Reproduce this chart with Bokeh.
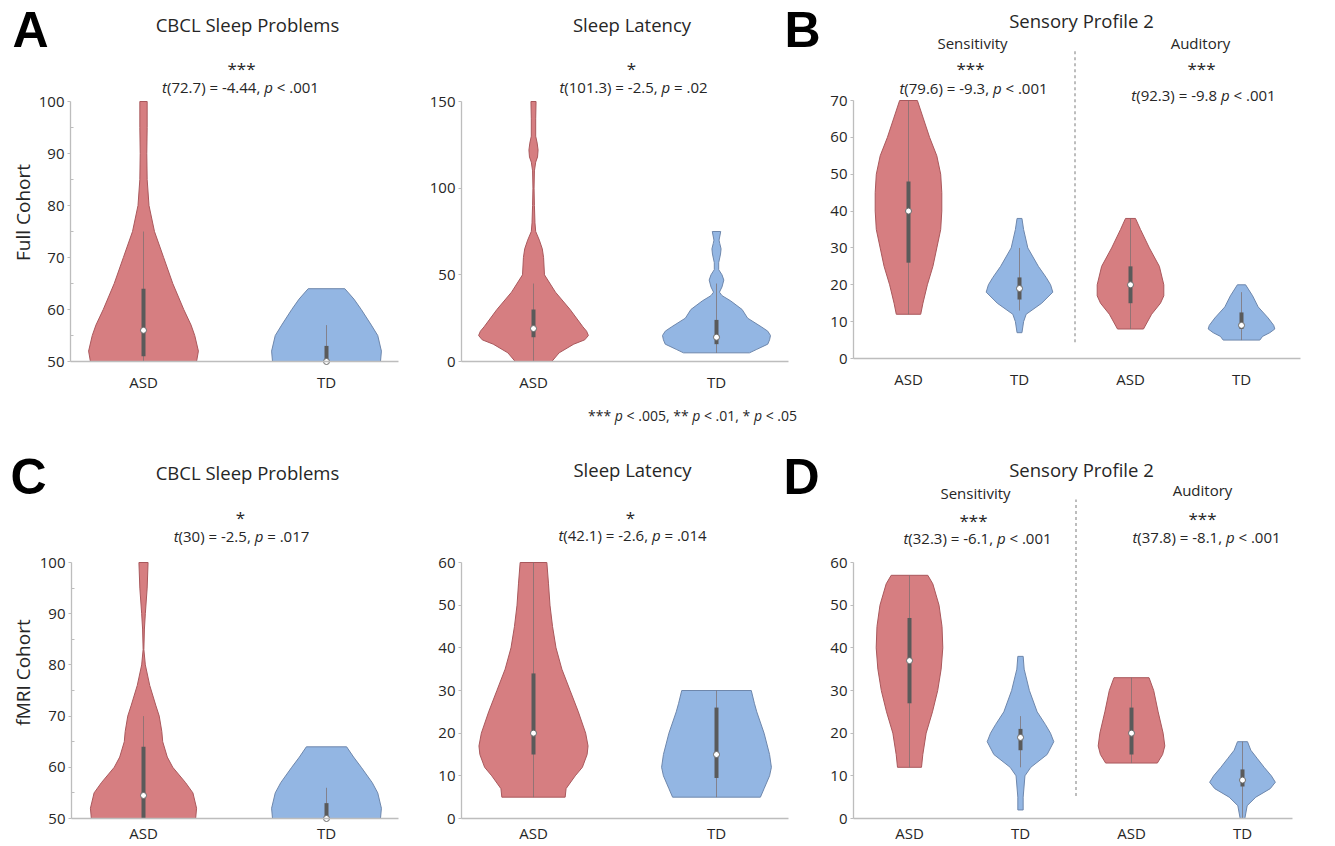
import os, re, math, glob, subprocess
from bokeh.plotting import figure
from bokeh.models import Range1d, LinearAxis, FixedTicker
from bokeh.core.properties import value
from bokeh.embed import file_html
from bokeh.resources import INLINE

# ======================= DATA =======================
groups = ["ASD", "TD"]
cohort_labels = ["Full Cohort", "fMRI Cohort"]
panel_letters = ["A", "B", "C", "D"]
measure_titles = ["CBCL Sleep Problems", "Sleep Latency", "Sensory Profile 2"]
subscale_titles = ["Sensitivity", "Auditory"]

full_stars = ["***", "*", "***", "***"]
full_stats = ["t(72.7) = -4.44, p < .001", "t(101.3) = -2.5, p = .02",
              "t(79.6) = -9.3, p < .001", "t(92.3) = -9.8 p < .001"]
fmri_stars = ["*", "*", "***", "***"]
fmri_stats = ["t(30) = -2.5, p = .017", "t(42.1) = -2.6, p = .014",
              "t(32.3) = -6.1, p < .001", "t(37.8) = -8.1, p < .001"]
footnote = "*** p < .005, ** p < .01, * p < .05"

cbcl_ticks = [50, 60, 70, 80, 90, 100]
cbcl_minor = [55, 65, 75, 85, 95]
latency_full_ticks = [0, 50, 100, 150]
sp_full_ticks = [0, 10, 20, 30, 40, 50, 60, 70]
latency_fmri_ticks = [0, 10, 20, 30, 40, 50, 60]
sp_fmri_ticks = [0, 10, 20, 30, 40, 50, 60]

# Violins: score levels, half-width of the density (in group units),
# box = (q1, q3, median, whisker low, whisker high)
# ---- Full cohort: CBCL sleep problems
cbcl_full_asd_y = [50, 52, 55, 57, 60, 65, 70, 75, 80, 85, 90, 95, 100]
cbcl_full_asd_w = [0.29, 0.30, 0.28, 0.26, 0.22, 0.16, 0.11, 0.06, 0.03, 0.02, 0.018, 0.02, 0.02]
cbcl_full_asd_box = (51, 64, 56, 50, 75)
cbcl_full_td_y = [50, 52, 55, 57, 60, 62, 64]
cbcl_full_td_w = [0.295, 0.30, 0.28, 0.245, 0.19, 0.15, 0.10]
cbcl_full_td_box = (50, 53, 50, 50, 57)
# ---- Full cohort: sleep latency
lat_full_asd_y = [0, 5, 10, 12.5, 15, 17.5, 20, 30, 40, 50, 60, 65, 70, 75, 80, 90, 100, 110, 115, 118,
                  122, 126, 130, 140, 150]
lat_full_asd_w = [0.10, 0.14, 0.22, 0.28, 0.30, 0.29, 0.27, 0.20, 0.12, 0.06, 0.055, 0.048, 0.032, 0.012,
                  0.008, 0.005, 0.003, 0.005, 0.012, 0.022, 0.025, 0.02, 0.012, 0.012, 0.014]
lat_full_asd_box = (14, 30, 19, 0, 45)
lat_full_td_y = [5, 7, 10, 12.5, 15, 17.5, 20, 25, 30, 35, 38, 40, 43, 47, 50, 53, 57, 62, 65, 68, 70, 75]
lat_full_td_w = [0.18, 0.22, 0.28, 0.29, 0.295, 0.28, 0.245, 0.17, 0.14, 0.077, 0.03, 0.016, 0.03, 0.04,
                 0.03, 0.012, 0.012, 0.022, 0.025, 0.018, 0.014, 0.023]
lat_full_td_box = (10, 24, 14, 5, 45)
# ---- Full cohort: sensory profile 2 (sensitivity, auditory)
sens_full_asd_y = [12, 15, 20, 25, 30, 35, 40, 45, 50, 55, 60, 65, 70]
sens_full_asd_w = [0.11, 0.13, 0.17, 0.22, 0.255, 0.29, 0.30, 0.30, 0.29, 0.255, 0.19, 0.135, 0.08]
sens_full_asd_box = (26, 48, 40, 12, 70)
sens_full_td_y = [7, 10, 12, 15, 18, 20, 22, 25, 30, 35, 38]
sens_full_td_w = [0.022, 0.037, 0.06, 0.20, 0.30, 0.28, 0.24, 0.17, 0.075, 0.037, 0.022]
sens_full_td_box = (16, 22, 19, 13, 30)
aud_full_asd_y = [8, 12, 15, 17, 20, 25, 30, 35, 38]
aud_full_asd_w = [0.117, 0.19, 0.27, 0.30, 0.30, 0.26, 0.17, 0.09, 0.045]
aud_full_asd_box = (15, 25, 20, 8, 38)
aud_full_td_y = [5, 6, 7, 8, 9, 11, 14, 17, 20]
aud_full_td_w = [0.165, 0.19, 0.255, 0.30, 0.29, 0.24, 0.15, 0.10, 0.037]
aud_full_td_box = (8, 12.5, 9, 5, 18)
# ---- fMRI cohort: CBCL sleep problems
cbcl_fmri_asd_y = [50, 52, 55, 57, 60, 62, 65, 67, 70, 72, 76, 80, 83, 87, 90, 95, 100]
cbcl_fmri_asd_w = [0.285, 0.29, 0.27, 0.23, 0.16, 0.13, 0.105, 0.10, 0.086, 0.068, 0.034, 0.01, 0.002,
                   0.005, 0.01, 0.02, 0.025]
cbcl_fmri_asd_box = (50, 64, 54.5, 50, 70)
cbcl_fmri_td_y = [50, 52, 55, 57, 60, 62, 64]
cbcl_fmri_td_w = [0.295, 0.30, 0.28, 0.25, 0.19, 0.148, 0.11]
cbcl_fmri_td_box = (50, 53, 50, 50, 56)
# ---- fMRI cohort: sleep latency
lat_fmri_asd_y = [5, 7, 10, 12, 15, 17, 20, 25, 30, 35, 40, 45, 50, 55, 60]
lat_fmri_asd_w = [0.173, 0.178, 0.228, 0.267, 0.293, 0.298, 0.285, 0.245, 0.20, 0.155, 0.123, 0.104,
                  0.09, 0.082, 0.073]
lat_fmri_asd_box = (15, 34, 20, 5, 60)
lat_fmri_td_y = [5, 7, 10, 12, 15, 20, 25, 27, 30]
lat_fmri_td_w = [0.24, 0.26, 0.29, 0.30, 0.29, 0.26, 0.22, 0.207, 0.19]
lat_fmri_td_box = (9.5, 26, 15, 5, 30)
# ---- fMRI cohort: sensory profile 2
sens_fmri_asd_y = [12, 15, 20, 25, 30, 35, 40, 45, 50, 55, 57]
sens_fmri_asd_w = [0.108, 0.12, 0.15, 0.207, 0.254, 0.285, 0.30, 0.293, 0.266, 0.21, 0.165]
sens_fmri_asd_box = (27, 47, 37, 12, 57)
sens_fmri_td_y = [2, 5, 10, 12, 15, 18, 20, 22, 25, 30, 35, 38]
sens_fmri_td_w = [0.024, 0.024, 0.04, 0.093, 0.24, 0.30, 0.27, 0.225, 0.15, 0.08, 0.033, 0.024]
sens_fmri_td_box = (16, 21, 19, 12, 24)
aud_fmri_asd_y = [13, 15, 17, 20, 25, 30, 33]
aud_fmri_asd_w = [0.233, 0.28, 0.30, 0.285, 0.24, 0.20, 0.158]
aud_fmri_asd_box = (15, 26, 20, 13, 33)
aud_fmri_td_y = [0, 3, 5, 7, 8.5, 10, 12, 14, 16, 18]
aud_fmri_td_w = [0.021, 0.042, 0.12, 0.25, 0.296, 0.26, 0.195, 0.135, 0.075, 0.045]
aud_fmri_td_box = (7.5, 11.5, 9, 0, 18)

# ======================= STYLE =======================
FONT = "Open Sans"
LETTER_FONT = "Liberation Sans"
TEXT = "#262626"
ASD_FILL, ASD_LINE = "#D67E81", "#A9585C"
TD_FILL, TD_LINE = "#93B6E3", "#6E87AC"
AXIS = "#BDBDBD"

W, H = 1330, 841
X0, Y0 = 0, 0

p = figure(width=W, height=H, x_range=Range1d(X0, X0 + W), y_range=Range1d(Y0 + H, Y0),
           output_backend="svg", toolbar_location=None, x_axis_type=None, y_axis_type=None,
           min_border=0, outline_line_color=None,
           background_fill_color="white", border_fill_color="white")
p.min_border_left = p.min_border_right = p.min_border_top = p.min_border_bottom = 0

# ---------------- text width measurement (for mixed italic runs) ----------------
FALLBACK = {c: 0.572 for c in "0123456789=<"}
FALLBACK.update({" ": 0.26, "(": 0.296, ")": 0.296, ".": 0.27, ",": 0.25, "-": 0.322,
                 "*": 0.55, "t": 0.35, "p": 0.613})


def _norm(s):
    return re.sub(r"[^a-z]", "", s.lower())


def _find_font(italic):
    want = "Italic" if italic else "Regular"
    try:
        r = subprocess.run(["fc-match", "-f", "%{file}", FONT + ":style=" + want],
                           capture_output=True, text=True, timeout=10)
        f = r.stdout.strip()
        if f and os.path.exists(f) and "opensans" in _norm(os.path.basename(f)):
            return f
    except Exception:
        pass
    files = []
    for d in ["/usr/share/fonts", "/usr/local/share/fonts",
              os.path.expanduser("~/.fonts"), os.path.expanduser("~/.local/share/fonts")]:
        files += glob.glob(os.path.join(d, "**", "*.[ot]tf"), recursive=True)
    cands = [f for f in files if "opensans" in _norm(os.path.basename(f))]
    if not cands:
        return None

    def score(f):
        b = os.path.basename(f).lower()
        s = 0 if ("italic" in b) == italic else 10
        if any(k in b for k in ["bold", "light", "semibold", "medium", "condensed"]):
            s += 5
        return s
    return sorted(cands, key=score)[0]


_fonts = {}


def measure(s, size, italic=False):
    key = (size, italic)
    if key not in _fonts:
        fnt = None
        try:
            from PIL import ImageFont
            path = _find_font(italic)
            if path:
                try:
                    fnt = ImageFont.truetype(path, size)
                except Exception:
                    fnt = ImageFont.truetype(path, int(round(size)))
        except Exception:
            fnt = None
        _fonts[key] = fnt
    fnt = _fonts[key]
    if fnt is not None:
        try:
            return fnt.getlength(s)
        except Exception:
            pass
    return sum(FALLBACK.get(c, 0.55) for c in s) * size


def txt(x, y, s, size, font=FONT, style="normal", align="center", baseline="middle",
        color=TEXT, angle=0.0):
    p.text(x=[x], y=[y], text=[s], angle=angle, text_font=value(font),
           text_font_size=value(f"{size}px"), text_font_style=style, text_align=align,
           text_baseline=baseline, text_color=color)


ITALIC_RE = re.compile(r"(?<![A-Za-z.])([tp])(?=[\s(])")


def rich(cx, y, s, size):
    parts, last = [], 0
    for m in ITALIC_RE.finditer(s):
        if m.start() > last:
            parts.append((s[last:m.start()], False))
        parts.append((m.group(1), True))
        last = m.end()
    if last < len(s):
        parts.append((s[last:], False))
    widths = [measure(t, size, it) for t, it in parts]
    x = cx - sum(widths) / 2.0
    for (t, it), w in zip(parts, widths):
        core = t.strip()
        if core:
            lead = t[:len(t) - len(t.lstrip())]
            xs = x + (measure(lead, size, it) if lead else 0.0)
            txt(xs, y, core, size, style="italic" if it else "normal", align="left")
        x += w


# ---------------- panels ----------------
def panel(key, geo, vrange, yticks, yminor, xlabels, violins, xstandoff, dash=None):
    x1, xppu, ax_l, ax_r, py_lo, py_hi = geo
    v_lo, v_hi = vrange
    ppy = (py_lo - py_hi) / float(v_hi - v_lo)

    def xv(px):
        return 1 + (px - x1) / float(xppu)

    def yv(py):
        return v_lo + (py_lo - py) / ppy

    xr, yr = key + "x", key + "y"
    p.extra_x_ranges[xr] = Range1d(xv(X0), xv(X0 + W))
    p.extra_y_ranges[yr] = Range1d(yv(Y0 + H), yv(Y0))

    if dash is not None:
        d_lo, d_top_px = dash
        p.segment(x0=[2.5], y0=[d_lo], x1=[2.5], y1=[yv(d_top_px)], line_color="#9A9A9A",
                  line_width=1.3, line_dash="3 3", x_range_name=xr, y_range_name=yr)

    for pos, ys, ws, box, fill, line in violins:
        xs = [pos + w for w in ws] + [pos - w for w in reversed(ws)]
        yy = list(ys) + list(reversed(ys))
        p.patch(xs, yy, fill_color=fill, line_color=line, line_width=1,
                x_range_name=xr, y_range_name=yr)
        q1, q3, med, lo, hi = box
        p.segment(x0=[pos], y0=[lo], x1=[pos], y1=[hi], line_color="#7E7070",
                  line_alpha=0.75, line_width=1, x_range_name=xr, y_range_name=yr)
        p.segment(x0=[pos], y0=[q1], x1=[pos], y1=[q3], line_color="#5A5A5A",
                  line_width=4, line_cap="butt", x_range_name=xr, y_range_name=yr)
        p.scatter(x=[pos], y=[med], marker="circle", size=6, fill_color="white",
                  line_color="#6A6A6A", line_width=1, x_range_name=xr, y_range_name=yr)

    ya = LinearAxis(y_range_name=yr, fixed_location=ax_l, bounds=(v_lo, v_hi),
                    ticker=FixedTicker(ticks=yticks, minor_ticks=yminor))
    ya.axis_line_color = AXIS
    ya.axis_line_width = 1.3
    ya.major_tick_line_color = AXIS
    ya.minor_tick_line_color = AXIS
    ya.major_tick_in, ya.major_tick_out = 0, 3
    ya.minor_tick_in, ya.minor_tick_out = 3, 0
    ya.major_label_standoff = 3
    ya.major_label_text_font = FONT
    ya.major_label_text_font_size = "15px"
    ya.major_label_text_color = TEXT
    p.add_layout(ya, "left")

    xa = LinearAxis(x_range_name=xr, fixed_location=py_lo, bounds=(xv(ax_l), xv(ax_r)),
                    ticker=FixedTicker(ticks=list(range(1, len(xlabels) + 1))),
                    major_label_overrides={i + 1: lab for i, lab in enumerate(xlabels)})
    xa.axis_line_color = AXIS
    xa.axis_line_width = 1.3
    xa.major_tick_in, xa.major_tick_out = 0, 0
    xa.minor_tick_line_color = None
    xa.major_label_standoff = xstandoff
    xa.major_label_text_font = FONT
    xa.major_label_text_font_size = "15px"
    xa.major_label_text_color = TEXT
    p.add_layout(xa, "below")


def two(a_y, a_w, a_box, t_y, t_w, t_box, base=1):
    return [(base, a_y, a_w, a_box, ASD_FILL, ASD_LINE),
            (base + 1, t_y, t_w, t_box, TD_FILL, TD_LINE)]


# geometry: (px of group 1, px per group, axis left px, axis right px, px of range low, px of range high)
panel("A1", (143, 183, 70, 398, 361, 101), (50, 100), cbcl_ticks, cbcl_minor, groups,
      two(cbcl_full_asd_y, cbcl_full_asd_w, cbcl_full_asd_box,
          cbcl_full_td_y, cbcl_full_td_w, cbcl_full_td_box), 10)
panel("A2", (533, 183, 461, 788, 361, 101), (0, 150), latency_full_ticks, [], groups,
      two(lat_full_asd_y, lat_full_asd_w, lat_full_asd_box,
          lat_full_td_y, lat_full_td_w, lat_full_td_box), 10)
panel("B", (908, 111, 853, 1300, 358, 100), (0, 70), sp_full_ticks, [], groups + groups,
      two(sens_full_asd_y, sens_full_asd_w, sens_full_asd_box,
          sens_full_td_y, sens_full_td_w, sens_full_td_box) +
      two(aud_full_asd_y, aud_full_asd_w, aud_full_asd_box,
          aud_full_td_y, aud_full_td_w, aud_full_td_box, base=3), 10, dash=(4.4, 50))
panel("C1", (143, 183, 71, 398, 818, 562), (50, 100), cbcl_ticks, cbcl_minor, groups,
      two(cbcl_fmri_asd_y, cbcl_fmri_asd_w, cbcl_fmri_asd_box,
          cbcl_fmri_td_y, cbcl_fmri_td_w, cbcl_fmri_td_box), 4)
panel("C2", (533, 183, 461, 788, 818, 562), (0, 60), latency_fmri_ticks, [], groups,
      two(lat_fmri_asd_y, lat_fmri_asd_w, lat_fmri_asd_box,
          lat_fmri_td_y, lat_fmri_td_w, lat_fmri_td_box), 4)
panel("D", (909, 111, 853, 1292, 818, 562), (0, 60), sp_fmri_ticks, [], groups + groups,
      two(sens_fmri_asd_y, sens_fmri_asd_w, sens_fmri_asd_box,
          sens_fmri_td_y, sens_fmri_td_w, sens_fmri_td_box) +
      two(aud_fmri_asd_y, aud_fmri_asd_w, aud_fmri_asd_box,
          aud_fmri_td_y, aud_fmri_td_w, aud_fmri_td_box, base=3), 4, dash=(5.3, 499))

# ---------------- texts ----------------
for (lx, ly), letter in zip([(12, 29.5), (784, 29), (10, 476.5), (783, 476.5)], panel_letters):
    txt(lx, ly, letter, 50, font=LETTER_FONT, style="bold", align="left", color="black")

for (cx, cy), s in zip([(247, 24), (631.5, 24), (1081, 19.5),
                        (247, 472), (632, 469), (1081, 469)], measure_titles + measure_titles):
    txt(cx, cy, s, 18.5)

for (cx, cy), s in zip([(972, 42), (1200, 42), (975, 492), (1202, 489)],
                       subscale_titles + subscale_titles):
    txt(cx, cy, s, 15)

for (cx, cy), s in zip([(241, 67.5), (631, 67.5), (970, 67.5), (1201, 67.5),
                        (240, 516.5), (630, 516.5), (973, 519.5), (1202, 517.5)],
                       full_stars + fmri_stars):
    txt(cx, cy, s, 17)

for (cx, cy), s in zip([(240, 86.5), (633, 86.5), (973, 87), (1203, 94),
                        (241, 535.5), (632, 534), (977, 537), (1206, 536)],
                       full_stats + fmri_stats):
    rich(cx, cy, s, 15)

rich(692, 415, footnote, 14)

for (cx, cy), s in zip([(22, 212), (22, 672)], cohort_labels):
    txt(cx, cy, s, 19, angle=math.pi / 2)

open("out.html", "w").write(file_html(p, INLINE))
